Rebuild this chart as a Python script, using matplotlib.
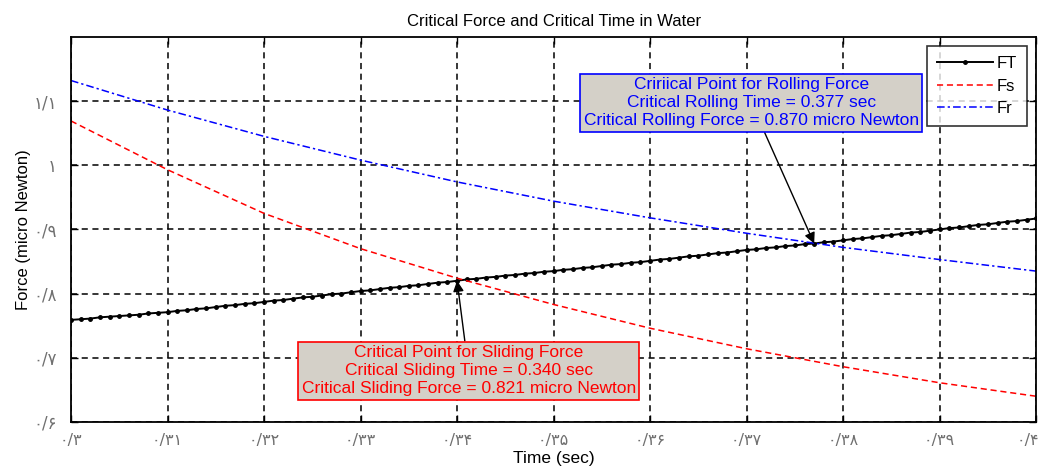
import numpy as np
import matplotlib
matplotlib.use("Agg")
import matplotlib.pyplot as plt
from matplotlib.transforms import ScaledTranslation

# time axis (sec)
t_ft = np.round(np.arange(0.300, 0.4005, 0.001), 3)
t_f = [0.30, 0.31, 0.32, 0.33, 0.34, 0.35, 0.36, 0.37, 0.38, 0.39, 0.40]

# total applied force FT (one marker every 0.001 s)
FT = [0.759, 0.760, 0.761, 0.763, 0.764, 0.765, 0.766, 0.767, 0.769, 0.770,
      0.771, 0.773, 0.774, 0.776, 0.777, 0.779, 0.781, 0.782, 0.784, 0.785,
      0.787, 0.789, 0.790, 0.792, 0.794, 0.795, 0.797, 0.799, 0.800, 0.802,
      0.804, 0.805, 0.807, 0.809, 0.810, 0.812, 0.813, 0.815, 0.817, 0.818,
      0.820, 0.822, 0.823, 0.825, 0.826, 0.828, 0.829, 0.831, 0.832, 0.834,
      0.835, 0.837, 0.838, 0.840, 0.841, 0.843, 0.845, 0.846, 0.848, 0.849,
      0.851, 0.853, 0.854, 0.856, 0.858, 0.859, 0.861, 0.863, 0.864, 0.866,
      0.868, 0.869, 0.871, 0.872, 0.874, 0.875, 0.877, 0.878, 0.880, 0.881,
      0.883, 0.885, 0.886, 0.888, 0.890, 0.891, 0.893, 0.895, 0.896, 0.898,
      0.900, 0.902, 0.903, 0.905, 0.907, 0.908, 0.910, 0.912, 0.913, 0.915,
      0.917]
Fs = [1.069, 0.993, 0.925, 0.870, 0.824, 0.783, 0.746, 0.714, 0.686, 0.661, 0.640]
Fr = [1.132, 1.086, 1.045, 1.008, 0.974, 0.944, 0.918, 0.894, 0.872, 0.853, 0.835]

x_ticks = [0.30, 0.31, 0.32, 0.33, 0.34, 0.35, 0.36, 0.37, 0.38, 0.39, 0.40]
x_labels = ["۰/۳", "۰/۳۱", "۰/۳۲", "۰/۳۳", "۰/۳۴", "۰/۳۵",
            "۰/۳۶", "۰/۳۷", "۰/۳۸", "۰/۳۹", "۰/۴"]
y_ticks = [0.6, 0.7, 0.8, 0.9, 1.0, 1.1]
y_labels = ["۰/۶", "۰/۷", "۰/۸", "۰/۹", "۱", "۱/۱"]

slide_t, slide_f = 0.340, 0.821
roll_t, roll_f = 0.377, 0.870

plt.rcParams['font.family'] = ['Liberation Sans', 'DejaVu Sans']

fig = plt.figure(figsize=(10.44, 4.73), dpi=100)
ax = fig.add_axes([0.068, 0.108, 0.9245, 0.814])

ax.plot(t_ft, FT, color='black', lw=1.4, marker='.', ms=5, label='FT')
ax.plot(t_f, Fs, color='red', lw=1.1, linestyle=(0, (4, 2.5)), label='Fs')
ax.plot(t_f, Fr, color='blue', lw=1.1, linestyle=(0, (5, 2, 1.5, 2)), label='Fr')

ax.set_xlim(0.30, 0.40)
ax.set_ylim(0.6, 1.2)
ax.set_xticks(x_ticks)
ax.set_xticklabels(x_labels, family=['DejaVu Sans', 'Noto Sans'], color='#707070', fontsize=11.5)
ax.set_yticks(y_ticks)
ax.set_yticklabels(y_labels, family=['DejaVu Sans', 'Noto Sans'], color='#707070', fontsize=12)
ax.tick_params(direction='in', top=True, right=True, length=5, width=1)
ax.tick_params(axis='x', pad=8)
ax.tick_params(axis='y', pad=10)
ax.grid(True, color='black', linestyle=(0, (4, 3)), lw=1.1)
for s in ax.spines.values():
    s.set_linewidth(1.3)

# last time label sits against the right edge, pull it in a little
last = ax.get_xticklabels()[-1]
last.set_transform(last.get_transform() + ScaledTranslation(-6 / 72, 0, fig.dpi_scale_trans))

ax.set_title("Critical Force and Critical Time in Water", fontsize=12, pad=8)
ax.set_xlabel("Time (sec)", fontsize=12.5, labelpad=2)
ax.set_ylabel("Force (micro Newton)", fontsize=12, labelpad=2)

leg = ax.legend(loc='upper right', fontsize=12, frameon=True, fancybox=False,
                edgecolor='black', borderaxespad=0.55, handlelength=3.4,
                handletextpad=0.2, labelspacing=0.45, borderpad=0.6)
leg.get_frame().set_linewidth(1.2)

arrow = dict(arrowstyle='-|>', color='black', lw=1, mutation_scale=16,
             shrinkA=0, shrinkB=0)

ax.annotate("Cririical Point for Rolling Force\n"
            f"Critical Rolling Time = {roll_t:.3f} sec\n"
            f"Critical Rolling Force = {roll_f:.3f} micro Newton",
            xy=(roll_t, np.interp(roll_t, t_ft, FT)), xytext=(0.3705, 1.097),
            ha='center', va='center', color='blue', fontsize=12.5, linespacing=1.25,
            bbox=dict(boxstyle='square,pad=0.2', fc='#d4d0c8', ec='blue', lw=1.2),
            arrowprops=arrow)

ax.annotate("Critical Point for Sliding Force\n"
            f"Critical Sliding Time = {slide_t:.3f} sec\n"
            f"Critical Sliding Force = {slide_f:.3f} micro Newton",
            xy=(slide_t, np.interp(slide_t, t_ft, FT)), xytext=(0.3412, 0.680),
            ha='center', va='center', color='red', fontsize=12.5, linespacing=1.25,
            bbox=dict(boxstyle='square,pad=0.2', fc='#d4d0c8', ec='red', lw=1.2),
            arrowprops=arrow)

fig.savefig("out.png", dpi=100)
